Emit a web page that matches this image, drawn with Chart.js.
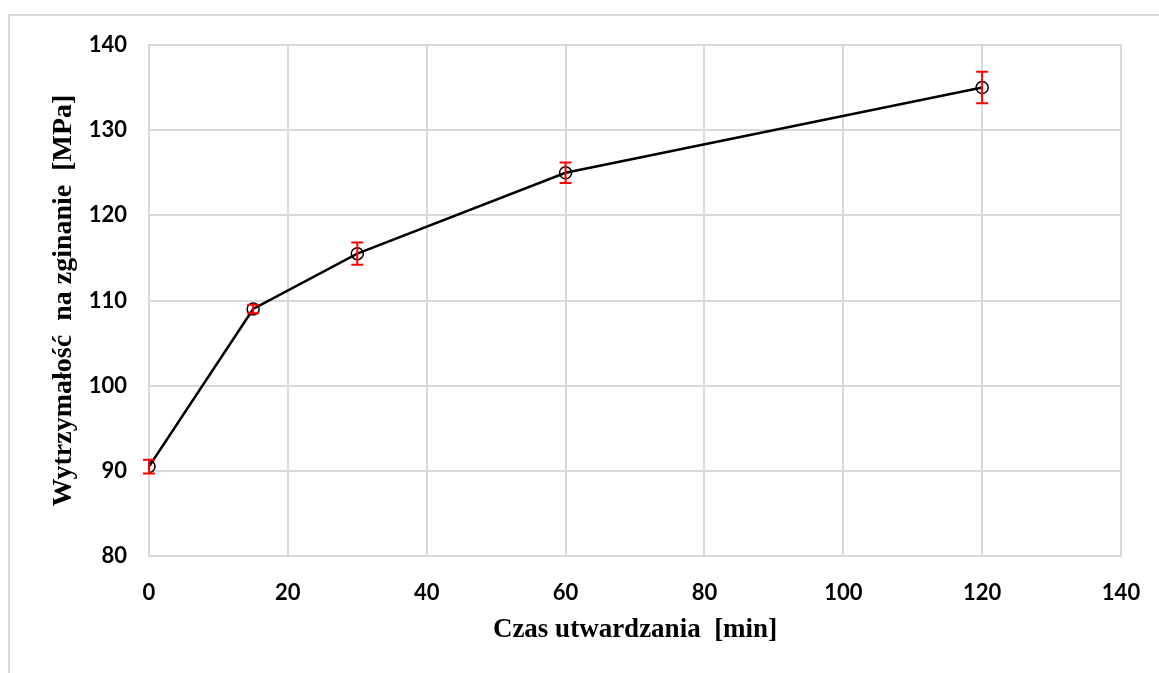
<!DOCTYPE html>
<html>
<head>
<meta charset="utf-8">
<script src="https://cdn.jsdelivr.net/npm/chart.js@4"></script>
<style>
  html, body { margin: 0; padding: 0; background: #ffffff; }
  #wrap { position: relative; width: 1159px; height: 673px; }
</style>
</head>
<body>
<div id="wrap"><canvas id="chart" width="1159" height="673"></canvas></div>
<script>
// Curing time [min]
const cureTimes = [0, 15, 30, 60, 120];
// Flexural strength [MPa]
const strength = [90.5, 109.0, 115.5, 125.0, 135.0];
// Standard deviation [MPa]
const strengthErr = [0.8, 0.5, 1.3, 1.2, 1.85];
// Axis tick values
const xTicks = [0, 20, 40, 60, 80, 100, 120, 140];
const yTicks = [80, 90, 100, 110, 120, 130, 140];

const xLabel = 'Czas utwardzania  [min]';
const yLabel = 'Wytrzymałość  na zginanie  [MPa]';

const gridColor = '#d9d9d9';

// Light frame around the whole figure (top and left edges)
const framePlugin = {
  id: 'frame',
  beforeDraw(chart) {
    const ctx = chart.ctx;
    ctx.save();
    ctx.strokeStyle = gridColor;
    ctx.lineWidth = 2;
    ctx.beginPath();
    ctx.moveTo(9, 673);
    ctx.lineTo(9, 15);
    ctx.lineTo(1159, 15);
    ctx.stroke();
    ctx.restore();
  }
};

// Red whiskers with caps, placed through the chart scales
const errorBarPlugin = {
  id: 'errorBars',
  afterDatasetsDraw(chart) {
    const ctx = chart.ctx;
    const xs = chart.scales.x, ys = chart.scales.y;
    const cap = 6;
    ctx.save();
    ctx.strokeStyle = '#ff0000';
    ctx.lineWidth = 2;
    cureTimes.forEach((t, i) => {
      const px = xs.getPixelForValue(t);
      const top = ys.getPixelForValue(strength[i] + strengthErr[i]);
      const bot = ys.getPixelForValue(strength[i] - strengthErr[i]);
      ctx.beginPath();
      ctx.moveTo(px, top); ctx.lineTo(px, bot);
      ctx.moveTo(px - cap, top); ctx.lineTo(px + cap, top);
      ctx.moveTo(px - cap, bot); ctx.lineTo(px + cap, bot);
      ctx.stroke();
    });
    ctx.restore();
  }
};

new Chart(document.getElementById('chart'), {
  type: 'scatter',
  data: {
    datasets: [{
      data: cureTimes.map((t, i) => ({ x: t, y: strength[i] })),
      showLine: true,
      tension: 0,
      borderColor: '#000000',
      borderWidth: 2.5,
      pointStyle: 'circle',
      pointRadius: 6,
      pointBorderWidth: 1.5,
      pointBorderColor: '#000000',
      pointBackgroundColor: 'rgba(0,0,0,0)'
    }]
  },
  plugins: [framePlugin, errorBarPlugin],
  options: {
    responsive: false,
    animation: false,
    layout: { padding: { left: 0, top: 45, right: 38, bottom: 0 } },
    plugins: { legend: { display: false }, tooltip: { enabled: false } },
    scales: {
      x: {
        type: 'linear',
        min: 0, max: 140,
        afterBuildTicks(scale) { scale.ticks = xTicks.map(v => ({ value: v })); },
        afterFit(scale) {
          scale.height = 117;
          scale.paddingLeft = 0;
          scale.paddingRight = 0;
        },
        grid: { color: gridColor, lineWidth: 2, drawTicks: false },
        border: { color: gridColor, width: 2 },
        ticks: {
          color: '#000000',
          padding: 24,
          maxRotation: 0,
          font: { family: 'Lato', weight: 'bold', size: 22 }
        },
        title: {
          display: true,
          text: xLabel,
          color: '#000000',
          padding: { top: 0, bottom: 27 },
          font: { family: 'Liberation Serif', weight: 'bold', size: 27 }
        }
      },
      y: {
        type: 'linear',
        min: 80, max: 140,
        afterBuildTicks(scale) { scale.ticks = yTicks.map(v => ({ value: v })); },
        afterFit(scale) { scale.width = 149; },
        grid: { color: gridColor, lineWidth: 2, drawTicks: false },
        border: { color: gridColor, width: 2 },
        ticks: {
          color: '#000000',
          padding: 22,
          font: { family: 'Lato', weight: 'bold', size: 22 }
        },
        title: {
          display: true,
          text: yLabel,
          color: '#000000',
          padding: { top: 47, bottom: 0 },
          font: { family: 'Liberation Serif', weight: 'bold', size: 28 }
        }
      }
    }
  }
});
</script>
</body>
</html>
